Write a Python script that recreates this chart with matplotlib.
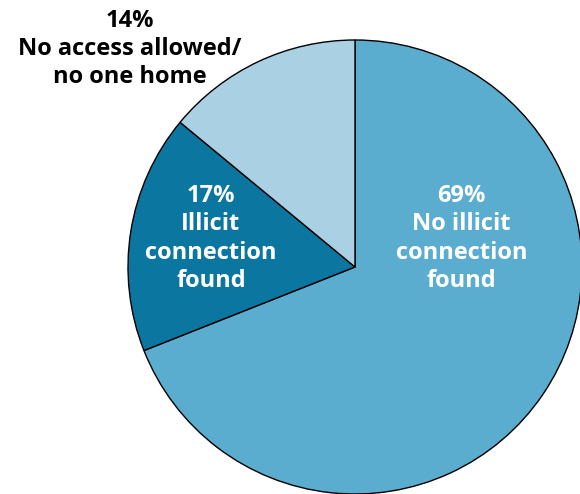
import matplotlib
matplotlib.use("Agg")
import matplotlib.pyplot as plt

# data
labels = ["No illicit\nconnection\nfound", "Illicit\nconnection\nfound", "No access allowed/\nno one home"]
values = [69, 17, 14]
colors = ["#5badcf", "#0b76a0", "#a9d1e3"]

plt.rcParams['font.family'] = ['Open Sans', 'DejaVu Sans']

fig = plt.figure(figsize=(5.8, 4.94), dpi=100)
# pie centered at ~(355,267) px, radius ~227 px
ax = fig.add_axes([128/580, 0, 454/580, 454/494])
ax.pie(values, colors=colors, startangle=90, counterclock=False,
       wedgeprops=dict(edgecolor="black", linewidth=1), radius=1)
ax.set_xlim(-1, 1)
ax.set_ylim(-1, 1)
ax.set_aspect("equal")
ax.axis("off")

tprops = dict(ha="center", va="center", fontsize=17, fontweight="bold", linespacing=1.24)
ax.text(0.47, 0.125, "%d%%\n%s" % (values[0], labels[0]), color="white", **tprops)
ax.text(-0.635, 0.125, "%d%%\n%s" % (values[1], labels[1]), color="white", **tprops)
fig.text(130/580, 1 - 49/494, "%d%%\n%s" % (values[2], labels[2]), color="black",
         **tprops)

fig.savefig("out.png", dpi=100)
